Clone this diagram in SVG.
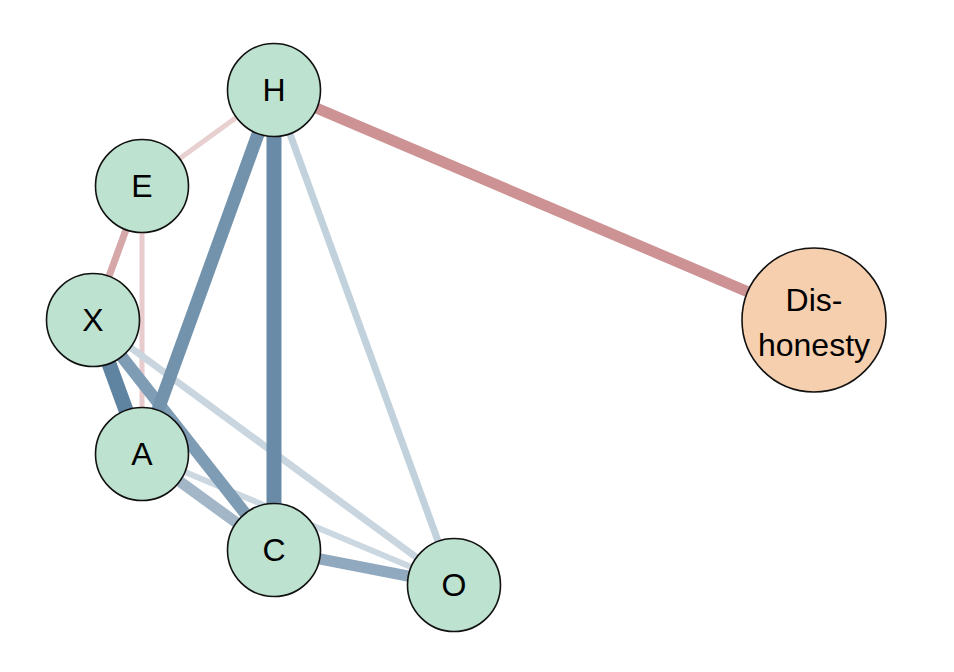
<svg xmlns="http://www.w3.org/2000/svg" width="954" height="672" viewBox="0 0 954 672">
<style>
.node circle{fill:#bde2cf;stroke:#111;stroke-width:1.6}
#Dishonesty circle{fill:#f6cfae}
.node text{font-family:"Liberation Sans",Arial,sans-serif;font-size:32px;fill:#000;text-anchor:middle}
#edges line{stroke-linecap:butt}
</style>
<rect width="954" height="672" fill="#fff"/>
<g id="edges">
<line x1="274" y1="90" x2="142" y2="186" stroke="#e8cfd0" stroke-width="5"/>
<line x1="142" y1="186" x2="142" y2="454" stroke="#e8cbcc" stroke-width="5"/>
<line x1="142" y1="186" x2="93" y2="320" stroke="#d6a7a9" stroke-width="7"/>
<line x1="93" y1="320" x2="454" y2="585" stroke="#c9d6e0" stroke-width="7"/>
<line x1="142" y1="454" x2="454" y2="585" stroke="#cbd7e1" stroke-width="6"/>
<line x1="274" y1="90" x2="454" y2="585" stroke="#c2d2dd" stroke-width="7"/>
<line x1="142" y1="454" x2="274" y2="550" stroke="#a2b6c8" stroke-width="11"/>
<line x1="274" y1="550" x2="454" y2="585" stroke="#91a9bf" stroke-width="11"/>
<line x1="93" y1="320" x2="274" y2="550" stroke="#7f9cb5" stroke-width="12"/>
<line x1="274" y1="90" x2="142" y2="454" stroke="#7393ad" stroke-width="13"/>
<line x1="274" y1="90" x2="274" y2="550" stroke="#6a8ba8" stroke-width="15"/>
<line x1="93" y1="320" x2="142" y2="454" stroke="#5f84a2" stroke-width="15"/>
<line x1="274" y1="90" x2="814" y2="320" stroke="#cd9394" stroke-width="11"/>
</g>
<g id="H" class="node"><circle cx="274" cy="90" r="46.5"/><text x="274" y="101">H</text></g>
<g id="E" class="node"><circle cx="142" cy="186" r="46.5"/><text x="142" y="197">E</text></g>
<g id="X" class="node"><circle cx="93" cy="320" r="46.5"/><text x="93" y="331">X</text></g>
<g id="A" class="node"><circle cx="142" cy="454" r="46.5"/><text x="142" y="465">A</text></g>
<g id="C" class="node"><circle cx="274" cy="550" r="46.5"/><text x="274" y="561">C</text></g>
<g id="O" class="node"><circle cx="454" cy="585" r="46.5"/><text x="454" y="596">O</text></g>
<g id="Dishonesty" class="node"><circle cx="814" cy="320" r="72"/><text x="814" y="311">Dis-</text><text x="814" y="356">honesty</text></g>
</svg>
